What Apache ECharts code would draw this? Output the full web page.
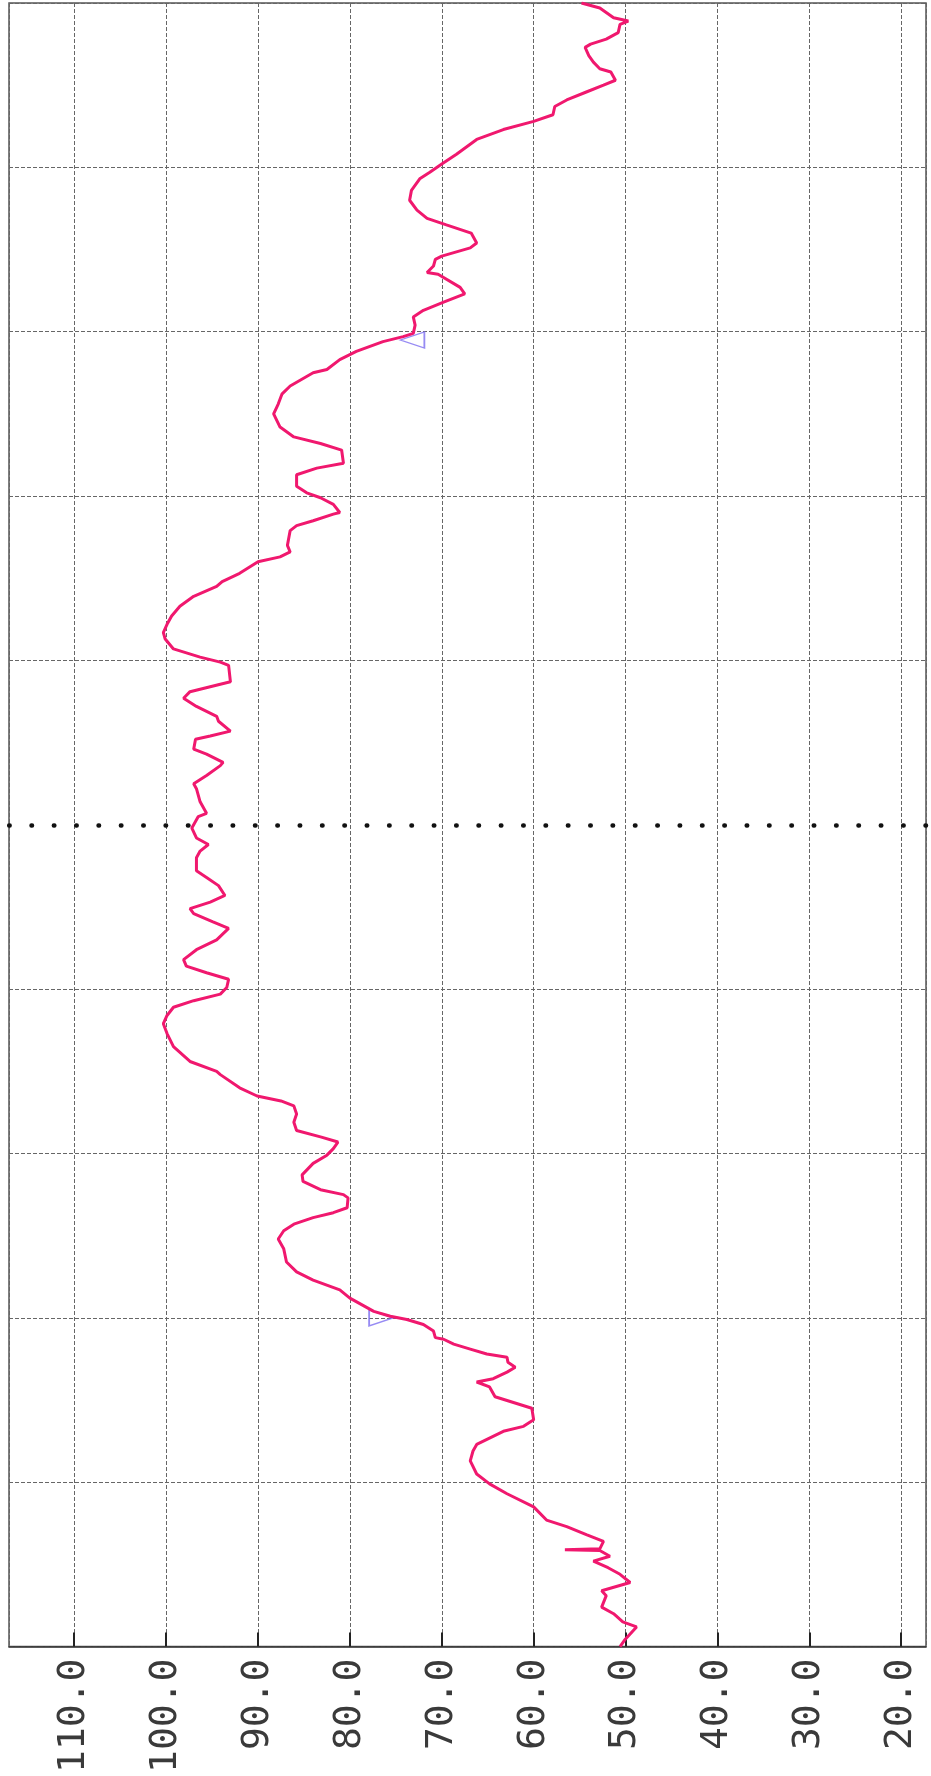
<!DOCTYPE html>
<html>
<head>
<meta charset="utf-8">
<script src="https://cdn.jsdelivr.net/npm/echarts@6/dist/echarts.min.js"></script>
<style>
html,body{margin:0;padding:0;background:#fff;}
#chart{width:931px;height:1776px;}
</style>
</head>
<body>
<div id="chart"></div>
<script>
// time position along the (vertical) trace axis, 0 = bottom, 10 = top
const timePoints = [
  0.00,0.04,0.12,0.15,0.20,0.24,0.31,0.34,0.39,0.44,0.48,0.52,0.55,0.585,0.59,0.595,0.64,0.68,0.73,0.77,
  0.85,0.93,0.99,1.05,1.13,1.19,1.23,1.31,1.34,1.38,1.45,1.52,1.58,1.61,1.63,1.67,1.70,1.73,1.76,1.78,
  1.81,1.84,1.87,1.88,1.92,1.96,1.99,2.01,2.04,2.12,2.17,2.23,2.28,2.34,2.42,2.48,2.53,2.57,2.61,2.64,
  2.67,2.73,2.75,2.78,2.83,2.87,2.94,2.99,3.03,3.07,3.10,3.14,3.19,3.24,3.29,3.32,3.35,3.40,3.48,3.50,
  3.56,3.65,3.73,3.79,3.84,3.89,3.93,3.97,4.01,4.06,4.10,4.14,4.18,4.24,4.30,4.37,4.41,4.46,4.49,4.53,
  4.57,4.63,4.68,4.72,4.80,4.84,4.88,4.92,4.98,5.05,5.07,5.14,5.22,5.25,5.30,5.36,5.38,5.43,5.46,5.52,
  5.54,5.57,5.63,5.66,5.72,5.77,5.81,5.84,5.87,5.97,5.99,6.02,6.07,6.13,6.17,6.22,6.27,6.33,6.39,6.45,
  6.48,6.53,6.60,6.63,6.66,6.70,6.79,6.82,6.85,6.89,6.90,6.95,6.99,7.02,7.06,7.13,7.17,7.20,7.28,7.32,
  7.36,7.42,7.50,7.56,7.62,7.67,7.75,7.77,7.83,7.88,7.94,7.97,7.99,8.04,8.09,8.13,8.18,8.23,8.27,8.35,
  8.36,8.40,8.44,8.46,8.51,8.54,8.60,8.65,8.69,8.74,8.80,8.86,8.93,8.97,9.02,9.08,9.17,9.23,9.28,9.32,
  9.37,9.41,9.46,9.50,9.53,9.58,9.60,9.64,9.68,9.73,9.75,9.78,9.82,9.87,9.89,9.91,9.97,10.00
];
// recorded value at each time point (horizontal axis)
const readings = [
  50.6,50.1,48.8,50.3,51.3,52.6,52.1,52.6,49.5,50.6,51.9,53.5,51.7,52.8,56.6,52.8,52.4,54.2,56.4,58.6,
  60.0,62.9,64.8,66.2,66.9,66.6,66.2,63.3,61.1,60.0,60.2,64.2,64.8,66.2,64.4,62.9,62.0,62.8,62.9,65.1,
  66.9,68.7,69.8,70.7,70.9,72.0,73.8,75.6,77.4,80.0,81.1,84.0,85.8,86.9,87.2,87.8,87.2,86.1,84.0,81.8,
  80.3,80.2,80.7,83.2,85.1,85.2,84.0,82.5,81.8,81.3,83.1,85.8,86.1,85.8,86.1,87.5,90.1,92.0,94.1,94.5,
  97.4,99.2,99.9,100.3,99.9,99.2,97.0,94.1,93.4,93.2,95.6,97.8,98.1,96.7,94.5,93.2,94.9,97.0,97.4,95.2,
  93.6,94.3,95.6,96.7,96.7,96.3,95.4,96.7,97.2,96.5,95.6,96.3,96.7,97.0,95.6,94.1,93.8,95.6,97.0,96.8,
  95.2,93.0,94.3,94.5,96.7,98.1,97.4,95.2,93.0,93.2,94.1,96.3,99.2,100.1,100.3,99.9,99.4,98.5,97.0,94.5,
  93.9,92.0,90.0,87.6,86.5,86.8,86.5,85.8,84.0,81.8,81.1,81.8,83.2,84.7,85.8,85.8,83.6,80.7,80.9,83.2,
  86.1,87.6,88.3,87.8,87.4,86.5,84.0,82.5,81.1,79.3,76.4,74.2,73.1,72.9,73.1,72.0,69.8,67.5,68.0,70.4,
  71.6,70.9,70.7,70.0,66.9,66.2,66.8,69.5,71.6,72.7,73.5,73.3,72.4,71.3,70.0,68.4,66.2,63.3,60.0,57.9,
  57.7,56.4,54.2,52.4,51.1,51.6,52.8,53.5,54.0,54.4,53.8,52.1,50.8,50.6,49.7,51.3,52.8,54.8
];
// the two triangle markers
const markerTimes = [2.0, 7.95];
const markerValues = [76.6, 73.2];
// value-axis tick labels (shown)
const valueTicks = [110, 100, 90, 80, 70, 60, 50, 40, 30, 20];
const centreTime = 5;

const traceData = timePoints.map((t, i) => [readings[i], t]);
const markerData = markerTimes.map((t, i) => [markerValues[i], t]);

const gridGray = '#666666';
const hColors = [];
for (let k = 0; k <= 10; k++) hColors.push(k === centreTime ? 'rgba(0,0,0,0)' : gridGray);

const chart = echarts.init(document.getElementById('chart'), null, {renderer: 'canvas'});
chart.setOption({
  animation: false,
  backgroundColor: '#ffffff',
  grid: {left: 9, right: 5, top: 3, bottom: 128, show: true, borderColor: '#555', borderWidth: 1.5},
  xAxis: {
    type: 'value', inverse: true, min: 17.3, max: 117.1,
    splitNumber: 10, minInterval: 10, maxInterval: 10,
    axisLine: {show: true, lineStyle: {color: '#333', width: 1.5}},
    axisTick: {show: true, inside: true, length: 14, lineStyle: {color: '#222', width: 2}},
    axisLabel: {
      rotate: 90, margin: 12, fontFamily: 'DejaVu Sans Mono', fontSize: 38, color: '#3a3a3a',
      showMinLabel: false, showMaxLabel: false,
      formatter: v => (valueTicks.indexOf(Math.round(v)) >= 0 && Math.abs(v - Math.round(v)) < 1e-6) ? v.toFixed(1) : ''
    },
    splitLine: {show: true, lineStyle: {color: gridGray, width: 1, type: [4, 2]}}
  },
  yAxis: {
    type: 'value', min: 0, max: 10, interval: 1,
    axisLine: {show: false}, axisTick: {show: false}, axisLabel: {show: false},
    splitLine: {show: true, lineStyle: {color: hColors, width: 1, type: [4, 2]}}
  },
  series: [
    {
      type: 'scatter', data: markerData, z: 2,
      symbol: 'triangle', symbolSize: [16, 24],
      symbolRotate: (val, params) => params.dataIndex === 0 ? -90 : 90,
      itemStyle: {color: 'rgba(0,0,0,0)', borderColor: '#7d6ef0', borderWidth: 1.5},
      silent: true
    },
    {
      type: 'line', data: traceData, z: 3,
      showSymbol: false, symbol: 'none', smooth: false,
      lineStyle: {color: '#f0186e', width: 3},
      markLine: {
        silent: true, symbol: ['none', 'none'], label: {show: false},
        lineStyle: {color: '#111', width: 4.5, type: [0.5, 21.85], cap: 'round', dashOffset: 0},
        data: [{yAxis: centreTime}]
      }
    }
  ]
});
</script>
</body>
</html>
